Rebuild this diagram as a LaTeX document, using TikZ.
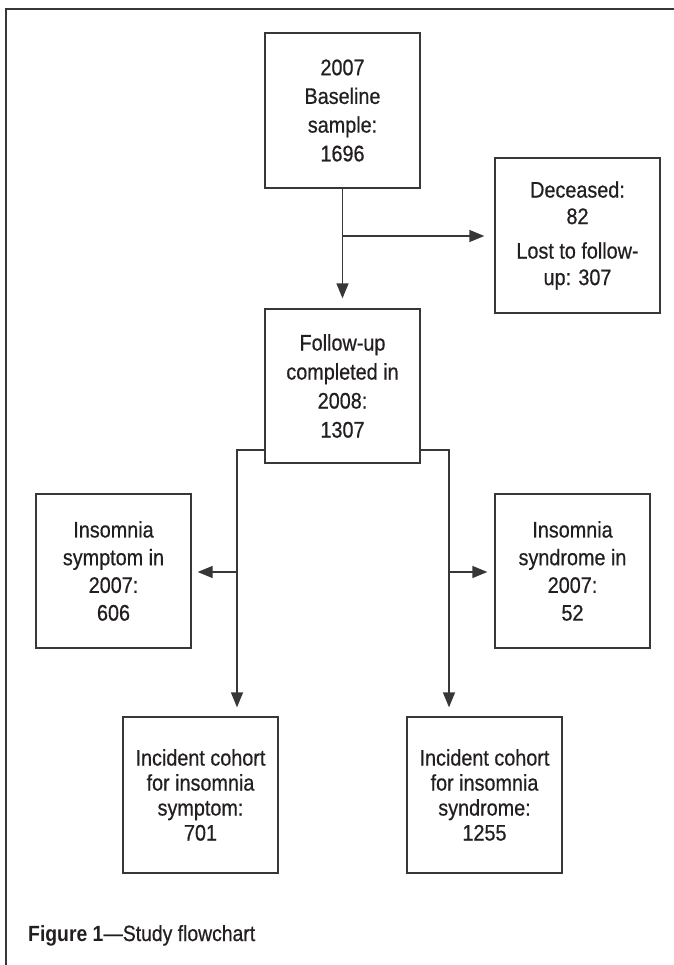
\documentclass[tikz,border=0pt]{standalone}
\usepackage{fontspec}
\setmainfont[FakeStretch=0.88, UprightFeatures={FakeBold=0.6}]{Liberation Sans}
\usetikzlibrary{arrows.meta}
\definecolor{linegray}{RGB}{55,55,55}
\definecolor{textblack}{RGB}{35,31,32}
\tikzset{
  box/.style={draw=linegray, line width=1.3pt, minimum width=155pt, minimum height=155pt,
    inner sep=0pt, align=center, text=textblack},
  conn/.style={draw=linegray, line width=1.3pt},
  arr/.style={conn, -{Triangle[length=15pt,width=12pt]}}
}
\begin{document}
\begin{tikzpicture}[x=1pt,y=-1pt]
\useasboundingbox (0,0) rectangle (673,965);
\draw[linegray, line width=1.5pt] (6,975) -- (6,9) -- (690,9);

\node[box, font=\fontsize{22.5}{28.7}\selectfont] (top) at (342.5,110.5) {2007\\Baseline\\sample:\\1696};
\node[box, minimum width=165pt, font=\fontsize{22.5}{26.5}\selectfont] (dec) at (577.5,235.5) {Deceased:\\82\\[8pt]Lost to follow-\\up: 307};
\node[box, minimum height=154pt, font=\fontsize{22.5}{29}\selectfont] (fol) at (342.5,386) {Follow-up\\completed in\\2008:\\1307};
\node[box, minimum height=154pt, font=\fontsize{22.5}{27.7}\selectfont] (sym) at (113.5,571) {Insomnia\\symptom in\\2007:\\606};
\node[box, minimum height=154pt, font=\fontsize{22.5}{27.7}\selectfont] (syn) at (572.5,571) {Insomnia\\syndrome in\\2007:\\52};
\node[box, minimum height=156pt, font=\fontsize{22.5}{25}\selectfont] (ics) at (200.5,795) {Incident cohort\\for insomnia\\symptom:\\701};
\node[box, minimum height=156pt, font=\fontsize{22.5}{25}\selectfont] (icn) at (484.5,795) {Incident cohort\\for insomnia\\syndrome:\\1255};

\coordinate (jn) at (343,236);
\coordinate (L1) at (237,450);
\coordinate (L2) at (237,572);
\coordinate (R1) at (449,450);
\coordinate (R2) at (449,572);

\draw[arr, shorten >=10pt] (top.south) -- (fol.north);
\draw[arr, shorten >=10pt] (jn) -- (dec.west |- jn);
\draw[arr, shorten >=9pt] (fol.west |- L1) -- (L1) -- (ics.north -| L1);
\draw[arr, shorten >=6pt] (L2) -- (sym.east |- L2);
\draw[arr, shorten >=9pt] (fol.east |- R1) -- (R1) -- (icn.north -| R1);
\draw[arr, shorten >=7pt] (R2) -- (syn.west |- R2);

\node[anchor=base west, inner sep=0pt, text=textblack, font=\fontsize{22}{26}\selectfont] (cap) at (28,941) {\textbf{Figure 1}—Study flowchart};
\end{tikzpicture}
\end{document}
